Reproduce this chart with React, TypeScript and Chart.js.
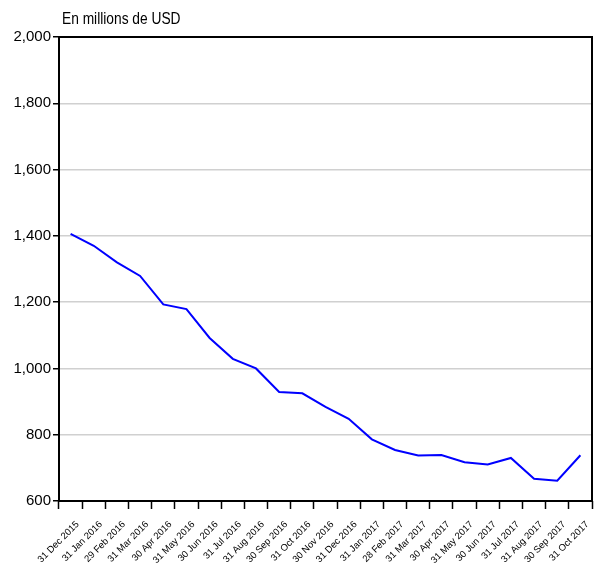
import React, { useEffect, useRef } from "react";
import { Chart, registerables } from "chart.js";

Chart.register(...registerables);

const categories: string[] = [
  "31 Dec 2015", "31 Jan 2016", "29 Feb 2016", "31 Mar 2016", "30 Apr 2016",
  "31 May 2016", "30 Jun 2016", "31 Jul 2016", "31 Aug 2016", "30 Sep 2016",
  "31 Oct 2016", "30 Nov 2016", "31 Dec 2016", "31 Jan 2017", "28 Feb 2017",
  "31 Mar 2017", "30 Apr 2017", "31 May 2017", "30 Jun 2017", "31 Jul 2017",
  "31 Aug 2017", "30 Sep 2017", "31 Oct 2017",
];

const values: number[] = [
  1406, 1370, 1320, 1279, 1193, 1179, 1092, 1029, 1000, 929, 925, 884, 848,
  786, 754, 737, 739, 717, 710, 730, 667, 661, 738,
];

const yTicks: number[] = [600, 800, 1000, 1200, 1400, 1600, 1800, 2000];
const titleText = "En millions de USD";

const FONT = "'Liberation Sans Narrow', 'Arial Narrow', 'Liberation Sans', Arial, sans-serif";

const framePlugin = {
  id: "framePlugin",
  afterDraw(chart: any) {
    const { ctx, chartArea } = chart;
    ctx.save();
    ctx.strokeStyle = "#000";
    ctx.lineWidth = 2;
    ctx.strokeRect(chartArea.left, chartArea.top, chartArea.right - chartArea.left, chartArea.bottom - chartArea.top);
    ctx.fillStyle = "#000";
    ctx.font = `16px ${FONT}`;
    ctx.textBaseline = "alphabetic";
    ctx.textAlign = "left";
    ctx.translate(chartArea.left + 3, chartArea.top - 13);
    ctx.scale(0.86, 1);
    ctx.fillText(titleText, 0, 0);
    ctx.restore();
  },
};

export default function App() {
  const ref = useRef<HTMLCanvasElement | null>(null);
  useEffect(() => {
    if (!ref.current) return;
    const chart = new Chart(ref.current, {
      type: "line",
      data: {
        labels: categories,
        datasets: [
          {
            data: values,
            borderColor: "#0000ff",
            borderWidth: 2,
            pointRadius: 0,
            fill: false,
            tension: 0,
          },
        ],
      },
      options: {
        animation: false,
        responsive: false,
        maintainAspectRatio: false,
        layout: { padding: { top: 37, right: 8, left: 0, bottom: 0 } },
        plugins: { legend: { display: false }, tooltip: { enabled: false }, title: { display: false } },
        scales: {
          x: {
            type: "category",
            offset: true,
            grid: {
              offset: true,
              drawOnChartArea: false,
              drawTicks: true,
              tickLength: 8,
              tickColor: "#000",
              tickWidth: 1.5,
            },
            border: { display: false },
            ticks: {
              autoSkip: false,
              maxRotation: 45,
              minRotation: 45,
              color: "#000",
              font: { family: FONT, size: 9.5 },
              padding: 10,
              labelOffset: 7,
            },
            afterFit: (s: any) => { s.height = 66; },
          },
          y: {
            min: 600,
            max: 2000,
            afterBuildTicks: (s: any) => { s.ticks = yTicks.map((v) => ({ value: v })); },
            grid: {
              color: "#d0d0d0",
              lineWidth: 1.5,
              tickColor: "#000",
              tickLength: 6,
              tickWidth: 1.5,
            },
            border: { display: false },
            ticks: {
              color: "#000",
              font: { family: FONT, size: 15 },
              padding: 2,
              callback: (v: any) => Number(v).toLocaleString("en-US"),
            },
            afterFit: (s: any) => { s.width = 59; },
          },
        },
      },
      plugins: [framePlugin],
    });
    return () => chart.destroy();
  }, []);
  return (
    <div style={{ position: "fixed", left: 0, top: 0, width: 600, height: 567, background: "#fff" }}>
      <canvas ref={ref} width={600} height={567} style={{ width: 600, height: 567 }} />
    </div>
  );
}
